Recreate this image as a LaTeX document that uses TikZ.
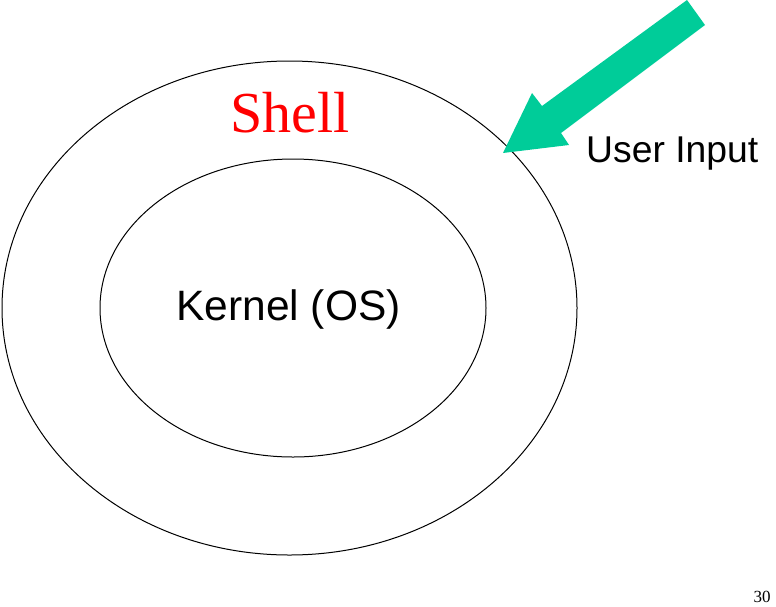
\documentclass[tikz,border=0pt]{standalone}
\usepackage{fontspec}
\setmainfont{Liberation Serif}
\setsansfont{Liberation Sans}
\usetikzlibrary{shapes.geometric}
\definecolor{arrowgreen}{RGB}{0,204,153}
\tikzset{
  ring/.style={draw=black, line width=1pt, ellipse, inner sep=0pt},
  sanslabel/.style={font=\sffamily, inner sep=0pt, anchor=base},
}
\begin{document}
\begin{tikzpicture}[x=1pt,y=-1pt]
\useasboundingbox (0,0) rectangle (776,606);
\node[ring, minimum width=575pt, minimum height=494pt] (outer) at (289.5,308) {};
\node[ring, minimum width=386pt, minimum height=298pt] (inner) at (293,308) {};
\node[text=red, inner sep=0pt, anchor=base, font=\fontsize{58}{58}\selectfont] (shell) at (290,132) {Shell};
\node[sanslabel, font=\sffamily\fontsize{42.5}{42.5}\selectfont] (kernel) at (288.5,320) {Kernel (OS)};
\node[sanslabel, anchor=base west, font=\sffamily\fontsize{37.3}{37.3}\selectfont] (user) at (586,162) {User Input};
\node[inner sep=0pt, anchor=base, font=\fontsize{17}{17}\selectfont] (page) at (762,602) {30};
\fill[arrowgreen] (503,153) -- (532,93) -- (542,106) -- (687,0) -- (705,25) -- (561,133) -- (569,145) -- cycle;
\end{tikzpicture}
\end{document}
